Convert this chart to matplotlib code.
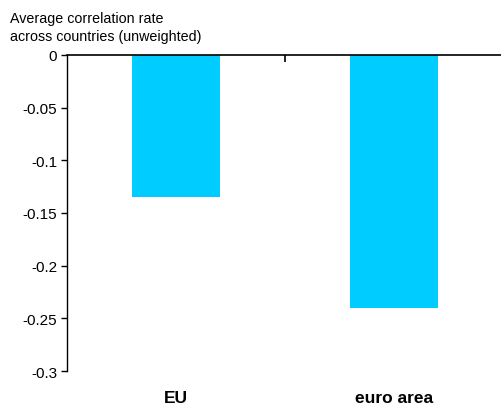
import matplotlib.pyplot as plt

# average correlation rate per group
groups = ['EU', 'euro area']
corr = [-0.135, -0.24]
yticks = [0, -0.05, -0.1, -0.15, -0.2, -0.25, -0.3]
ylabels = ['0', '-0.05', '-0.1', '-0.15', '-0.2', '-0.25', '-0.3']

plt.rcParams['font.family'] = ['Liberation Sans', 'DejaVu Sans']

fig = plt.figure(figsize=(5.01, 4.06), dpi=100)
ax = fig.add_axes([67/501, 1-372/406, 436/501, 316/406])

ax.bar(range(len(groups)), corr, width=0.40, color='#00CCFF')

ax.set_xlim(-0.5, 1.5)
ax.set_ylim(-0.3, 0)
ax.set_yticks(yticks)
ax.set_yticklabels(ylabels, fontsize=11)

ax.set_xticks(range(len(groups)))
ax.set_xticklabels(groups, fontsize=12.5, fontweight='bold')
ax.tick_params(axis='x', which='major', length=0, pad=14)
ax.set_xticks([0.5], minor=True)
ax.tick_params(axis='x', which='minor', top=True, bottom=False, direction='in', length=5, width=1.2)
ax.tick_params(axis='y', length=4, width=1, pad=3)

for s in ['right', 'bottom']:
    ax.spines[s].set_visible(False)
ax.spines['top'].set_linewidth(1.2)
ax.spines['left'].set_linewidth(1)

fig.text(10/501, 1-12/406, 'Average correlation rate\nacross countries (unweighted)',
         fontsize=10.3, va='top', ha='left', linespacing=1.4)

fig.savefig('out.png', dpi=100)
